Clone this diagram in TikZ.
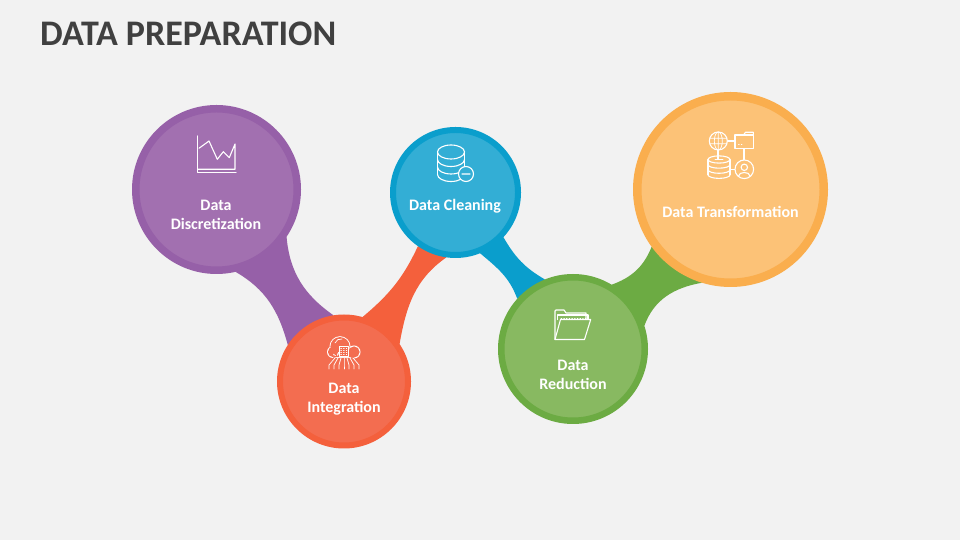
\documentclass[tikz,border=0pt]{standalone}
\usepackage{fontspec}
\setmainfont{Carlito}
\usetikzlibrary{backgrounds}
\definecolor{pagebg}{HTML}{F2F2F2}
\definecolor{titlegrey}{HTML}{404040}
\definecolor{discRing}{HTML}{9660A8}
\definecolor{discFill}{HTML}{A270B0}
\definecolor{integRing}{HTML}{F4603C}
\definecolor{integFill}{HTML}{F36D50}
\definecolor{cleanRing}{HTML}{0A9ECC}
\definecolor{cleanFill}{HTML}{33AED5}
\definecolor{reduceRing}{HTML}{6CAB43}
\definecolor{reduceFill}{HTML}{88B961}
\definecolor{transRing}{HTML}{FAAE4E}
\definecolor{transFill}{HTML}{FCC277}
\tikzset{
  bubble/.style n args={3}{circle, draw=#1, fill=#2, line width=#3},
  caption/.style={text=white, align=center, font=\fontsize{16}{19}\selectfont\bfseries, inner sep=0pt},
  pen/.style={draw=white, line width=1.1pt, line join=round, line cap=round},
  thinpen/.style={pen, line width=0.7pt},
}
\newcommand*{\IconChart}{% chart with two base lines
  \draw[pen] (-18.3,19) -- (-18.3,-17.7) -- (20,-17.7);
  \draw[pen] (-18.3,-14.3) -- (19,-14.3) -- (19,11) -- (13.3,-2.7) -- (7.3,3.3) -- (1.3,-4.3) -- (-7,14) -- (-17,6.7);
}
\newcommand*{\IconCloud}[1]{% #1 = colour behind the icon
  \fill[white] (-11,0) circle (6) (-4,5.3) circle (10.5) (10,0) circle (6.5) (-11,-6) rectangle (10,0);
  \fill[#1] (-11,0) circle (5.1) (-4,5.3) circle (9.6) (10,0) circle (5.6) (-11,-5.1) rectangle (10,0);
  \draw[thinpen] (-9,9) .. controls (-8,12) and (-5,13.5) .. (-2,13);
  \draw[thinpen] (-4.7,-4) rectangle (4.3,6);
  \foreach \y in {-2,0,2,4} {
    \draw[thinpen, dotted] (-3.2,\y) -- (2.8,\y);
  }
  \foreach \a/\b in {-9/-15, -6/-10, -3/-5, 0/0, 3/5, 6/10, 9/15} {
    \draw[thinpen] (\a,-6) -- (\b,-13) -- (\b,-17);
  }
}
\newcommand*{\IconDisks}[4]{% #1/#2 = half width, half height of a disk, #3 = top, #4 = step between rims
  \draw[pen] (0,#3) ellipse ({#1} and {#2});
  \draw[pen] (-#1,#3) -- (-#1,#3-#4*3);
  \draw[pen] (#1,#3) -- (#1,#3-#4*3);
  \foreach \n in {1,2,3} {
    \draw[pen] (-#1,#3-#4*\n) arc[start angle=180, end angle=360, x radius=#1, y radius=#2];
  }
}
\newcommand*{\IconFolder}{% open folder
  \draw[pen] (-18,-15) -- (-18,13.5) .. controls (-18,14.5) .. (-17,14.5) -- (-9,14.5) -- (-7,11.5) -- (13,11.5) -- (13,5);
  \draw[pen] (-15.5,5) -- (-15.5,9.5) -- (15,9.5) -- (15,5);
  \draw[thinpen, dotted] (-12,6.5) -- (13,6.5);
  \draw[pen] (-18,-15) -- (-12.5,5) -- (17.7,5) -- (11.5,-15) -- cycle;
}
\newcommand*{\IconLinked}[1]{% #1 = colour behind the icon
  \draw[pen] (-12.5,19) -- (13.5,19);
  \draw[pen] (-12.5,19) -- (-12.5,0);
  \draw[pen] (13.5,12) -- (13.5,-2);
  \draw[pen] (-1,-9.3) -- (5,-9.3);
  \begin{scope}[shift={(-12.2,19)}]
    \fill[#1] (0,0) circle (9);
    \draw[thinpen] (0,0) ellipse (4 and 9) (-8.6,2.7) -- (8.6,2.7) (-8.6,-2.7) -- (8.6,-2.7) (0,-9) -- (0,9);
    \draw[pen] (0,0) circle (9);
  \end{scope}
  \fill[#1] (4.5,11.7) rectangle (22.8,25);
  \draw[pen] (4.5,11.7) rectangle (22.8,25);
  \draw[pen] (13,25) -- (15,27.7) -- (22.8,27.7) -- (22.8,25);
  \draw[thinpen, dotted] (8,16) -- (13,16);
  \begin{scope}[shift={(-11.5,0)}]
    \fill[#1] (-11,0.5) rectangle (11,-15);
    \IconDisks{11}{3.6}{0.5}{5.1}
    \draw[thinpen] (-4,0.5) -- (4,0.5);
  \end{scope}
  \begin{scope}[shift={(13.8,-9.3)}]
    \fill[#1] (0,0) circle (9.3);
    \draw[pen] (0,0) circle (9.3);
    \draw[pen] (0,2) circle (3.2);
    \draw[pen] (-5.8,-6.8) .. controls (-5.5,-2) and (5.5,-2) .. (5.8,-6.8);
  \end{scope}
}

\begin{document}
\begin{tikzpicture}[x=1pt, y=1pt]
  \useasboundingbox (0,0) rectangle (960,540);
  \node[bubble={discRing}{discFill}{7.5pt}, minimum size=161.5pt] (disc) at (216.5,350.5) {};
  \node[bubble={integRing}{integFill}{6pt}, minimum size=128pt] (integ) at (344,158.5) {};
  \node[bubble={cleanRing}{cleanFill}{6pt}, minimum size=125pt] (clean) at (455.5,347.5) {};
  \node[bubble={reduceRing}{reduceFill}{6.5pt}, minimum size=143.5pt] (reduce) at (573,191) {};
  \node[bubble={transRing}{transFill}{8.5pt}, minimum size=186.5pt] (trans) at (730.5,350.5) {};

  \begin{pgfonlayer}{background}
    \fill[pagebg] (0,0) rectangle (960,540);
    \fill[discRing] (disc.-34) to[out=-85, in=145] (integ.99) -- (integ.147) to[out=105, in=-30] (disc.-77) -- cycle;
    \fill[integRing] (integ.74) to[out=40, in=245] (clean.-125.5) -- (clean.-98) to[out=215, in=80] (integ.34) -- cycle;
    \fill[cleanRing] (clean.-43) to[out=-60, in=150] (reduce.112) -- (reduce.138) to[out=110, in=-40] (clean.-68) -- cycle;
    \fill[reduceRing] (reduce.59) to[out=20, in=248] (trans.-144) -- (trans.-107) to[out=190, in=70] (reduce.18) -- cycle;
  \end{pgfonlayer}

  \node[anchor=west, inner sep=0pt, text=titlegrey, font=\fontsize{36}{40}\selectfont\bfseries] (title) at (40,506) {DATA PREPARATION};
  \node[caption] (discText) at (216,325.5) {Data\\Discretization};
  \node[caption] (integText) at (344,140.5) {Data\\Integration};
  \node[caption] (cleanText) at (455,334) {Data Cleaning};
  \node[caption] (reduceText) at (573,165.5) {Data\\Reduction};
  \node[caption] (transText) at (730.5,328) {Data Transformation};

  \begin{scope}[shift={(216,385)}]
    \IconChart
  \end{scope}
  \begin{scope}[shift={(344,188)}]
    \IconCloud{integFill}
  \end{scope}
  \begin{scope}[shift={(451,376.5)}]
    \IconDisks{13.5}{7}{11.5}{7.5}
    \fill[cleanFill] (15,-10.5) circle (7.5);
    \draw[pen] (15,-10.5) circle (7.5) (11,-10.5) -- (19,-10.5);
  \end{scope}
  \begin{scope}[shift={(573,215.5)}]
    \IconFolder
  \end{scope}
  \begin{scope}[shift={(730.5,380)}]
    \IconLinked{transFill}
  \end{scope}
\end{tikzpicture}
\end{document}
